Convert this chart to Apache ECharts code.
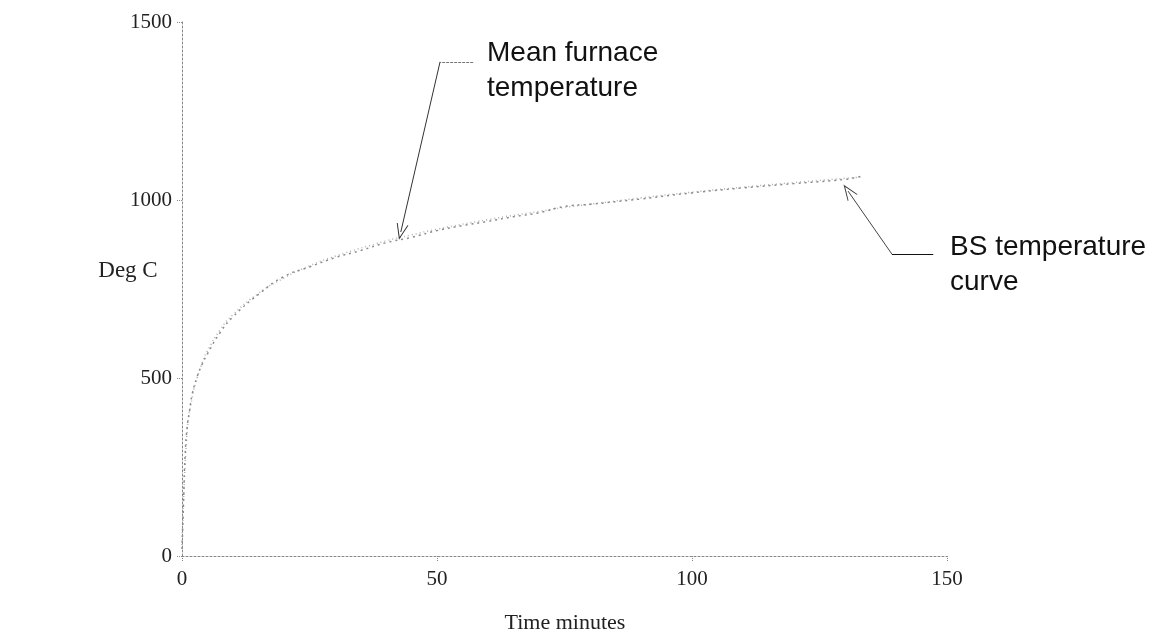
<!DOCTYPE html>
<html>
<head>
<meta charset="utf-8">
<script src="https://cdn.jsdelivr.net/npm/echarts@6/dist/echarts.min.js"></script>
<style>html,body{margin:0;padding:0;background:#fff;}#c{width:1168px;height:640px;}</style>
</head>
<body>
<div id="c"></div>
<script>
// Time (minutes) for each series
const timeBS = [0, 1, 2, 3, 4, 5, 7.5, 10, 15, 20, 25, 30, 40, 45, 50, 60, 70, 75, 80, 90, 100, 110, 120, 130, 133];
// BS temperature curve (Deg C)
const tempBS = [20, 349, 445, 502, 544, 576, 636, 678, 738, 781, 815, 842, 885, 902, 918, 945, 968, 979, 988, 1006, 1022, 1036, 1049, 1061, 1064];
// Mean furnace temperature
const timeMean = [0, 0.3, 0.6, 1, 1.5, 2, 3, 4, 5, 7.5, 10, 15, 20, 25, 30, 35, 40, 45, 50, 55, 60, 65, 70, 75, 80, 90, 100, 110, 120, 130, 133];
const tempMean = [20, 150, 280, 360, 410, 455, 505, 540, 568, 628, 672, 735, 785, 812, 838, 858, 880, 895, 914, 928, 940, 953, 964, 982, 988, 1003, 1020, 1034, 1046, 1058, 1066];
const xTicks = [0, 50, 100, 150];
const yTicks = [0, 500, 1000, 1500];

const bs = timeBS.map((t, i) => [t, tempBS[i]]);
const mean = timeMean.map((t, i) => [t, tempMean[i]]);

const openArrow = 'path://M0,0 L-6,16 L-5,16 L0,3 L5,16 L6,16 Z';

const chart = echarts.init(document.getElementById('c'));
const serif = '"Liberation Serif", "Times New Roman", serif';
const sans = '"Liberation Sans", Arial, sans-serif';
chart.setOption({
  animation: false,
  backgroundColor: '#fff',
  grid: {left: 182, right: 221, top: 22, bottom: 84},
  xAxis: {
    type: 'value', min: 0, max: 150, interval: 50,
    axisLine: {show: true, lineStyle: {color: '#888', type: [2, 2], width: 1}},
    axisTick: {show: true, inside: false, length: 5, lineStyle: {color: '#888', type: 'dotted'}},
    axisLabel: {fontFamily: serif, fontSize: 21, color: '#222', margin: 13,
      formatter: v => xTicks.includes(v) ? String(v) : ''},
    splitLine: {show: false}
  },
  yAxis: {
    type: 'value', min: 0, max: 1500, interval: 500,
    axisLine: {show: true, lineStyle: {color: '#888', type: [2, 2], width: 1}},
    axisTick: {show: true, length: 6, lineStyle: {color: '#888', type: 'dotted'}},
    axisLabel: {fontFamily: serif, fontSize: 21, color: '#222', margin: 10,
      formatter: v => yTicks.includes(v) ? String(v) : ''},
    splitLine: {show: false}
  },
  series: [
    {
      name: 'Mean furnace temperature', type: 'line', data: mean, showSymbol: false, smooth: true,
      lineStyle: {color: '#8a8a8a', width: 1.5, type: [2, 4]}, z: 3,
      markLine: {
        silent: true, symbol: ['none', openArrow], symbolSize: [12, 16],
        lineStyle: {color: '#333', width: 1, type: 'solid'}, label: {show: false},
        data: [
          [{coord: [50.6, 1388], symbol: 'none'}, {coord: [42.9, 910]}],
          [{coord: [57.1, 1388], symbol: 'none', lineStyle: {color: '#777', type: [3, 1]}}, {coord: [50.6, 1388], symbol: 'none'}]
        ]
      }
    },
    {
      name: 'BS temperature curve', type: 'line', data: bs, showSymbol: false, smooth: true,
      lineStyle: {color: '#b0b0b0', width: 1.5, type: [1, 3]}, z: 2,
      markLine: {
        silent: true, symbol: ['none', openArrow], symbolSize: [12, 16],
        lineStyle: {color: '#444', width: 1, type: 'solid'}, label: {show: false},
        data: [
          [{coord: [139.2, 848], symbol: 'none'}, {coord: [130.6, 1025]}],
          [{coord: [147.3, 848], symbol: 'none', lineStyle: {color: '#111'}}, {coord: [139.2, 848], symbol: 'none'}]
        ]
      }
    }
  ],
  graphic: [
    {type: 'text', left: 487, top: 36, style: {text: 'Mean furnace\ntemperature', font: '28px ' + sans, fill: '#111', lineHeight: 35}},
    {type: 'text', left: 950, top: 230, style: {text: 'BS temperature\ncurve', font: '28px ' + sans, fill: '#111', lineHeight: 35}},
    {type: 'text', x: 128, y: 271, style: {text: 'Deg C', font: '23px ' + serif, fill: '#222', textAlign: 'center', textVerticalAlign: 'middle'}},
    {type: 'text', x: 565, y: 623, style: {text: 'Time minutes', font: '22px ' + serif, fill: '#222', textAlign: 'center', textVerticalAlign: 'middle'}}
  ]
});
</script>
</body>
</html>
